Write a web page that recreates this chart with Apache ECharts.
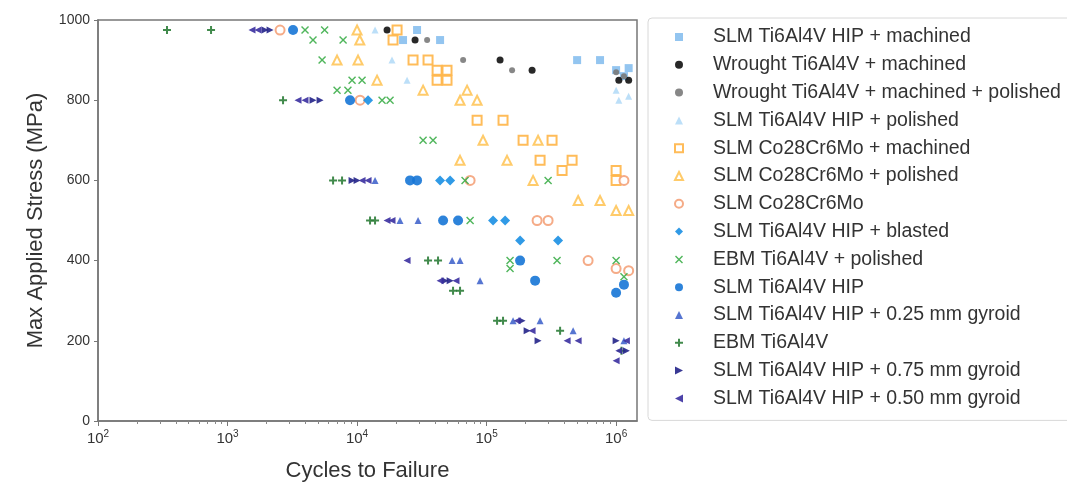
<!DOCTYPE html>
<html>
<head>
<meta charset="utf-8">
<script src="https://cdn.jsdelivr.net/npm/echarts@6/dist/echarts.min.js"></script>
<style>
  html, body { margin: 0; padding: 0; background: #fff; }
  #main { width: 1067px; height: 483px; }
</style>
</head>
<body>
<div id="main"></div>
<script>
// [cycles, max stress MPa]
var slmHipMachined = [[22650, 950], [29060, 975], [43750, 950], [500000, 900], [751700, 900], [1000000, 875], [1150000, 860], [1250000, 880]];
var wroughtMachined = [[17050, 975], [28050, 950], [127100, 900], [224600, 875], [1050000, 850], [1250000, 850]];
var wroughtPolished = [[34740, 950], [65880, 900], [157400, 875], [1000000, 870], [1150000, 860]];
var slmHipPolished = [[13770, 975], [18620, 900], [24330, 850], [1000000, 825], [1050000, 800], [1250000, 810]];
var coMachined = [[20370, 975], [18960, 950], [27060, 900], [35330, 900], [41500, 875], [49500, 875], [41500, 850], [49500, 850],
  [84500, 750], [134000, 750], [191400, 700], [320300, 700], [258900, 650], [382800, 625], [457400, 650], [1000000, 625], [1000000, 600]];
var coPolished = [[10000, 975], [10500, 950], [7010, 900], [10180, 900], [14270, 850], [32350, 825], [62400, 800], [70700, 825], [84500, 800],
  [93900, 700], [249800, 700], [62400, 650], [143900, 650], [228600, 600], [509300, 550], [751700, 550], [1000000, 525], [1250000, 525]];
var coPlain = [[2545, 975], [10550, 800], [74640, 600], [245500, 500], [298600, 500], [608000, 400], [1000000, 380], [1150000, 600], [1250000, 375]];
var slmHipBlasted = [[12160, 800], [43750, 600], [52300, 600], [112200, 500], [139000, 500], [181500, 450], [356500, 450]];
var ebmPolished = [[3965, 975], [5620, 975], [4570, 950], [7800, 950], [5370, 900], [9150, 850], [10930, 850], [7010, 825], [8500, 825],
  [15600, 800], [17980, 800], [32350, 700], [38600, 700], [298600, 600], [68200, 600], [74640, 500], [151800, 400], [151800, 380],
  [350000, 400], [1000000, 400], [1150000, 360]];
var slmHip = [[3205, 975], [8830, 800], [25650, 600], [29060, 600], [46150, 500], [60250, 500], [181500, 400], [237000, 350], [1000000, 320], [1150000, 340]];
var gyroid025 = [[13770, 600], [21470, 500], [29600, 500], [54200, 400], [62400, 400], [89100, 350], [160200, 250], [258900, 250], [465600, 225], [1150000, 200]];
var ebmPlain = [[341, 975], [746, 975], [2683, 800], [6530, 600], [7660, 600], [12600, 500], [13770, 500], [35330, 400], [42200, 400],
  [55100, 325], [62400, 325], [120500, 250], [134000, 250], [369500, 225], [1100000, 175]];
var gyroid075 = [[1950, 975], [2130, 975], [4570, 800], [5180, 800], [9150, 600], [10000, 600], [47800, 350], [52300, 350], [188000, 250],
  [205600, 225], [249800, 200], [1000000, 200], [1200000, 175]];
var gyroid050 = [[1545, 975], [1720, 975], [3500, 800], [3965, 800], [10930, 600], [12160, 600], [17050, 500], [18620, 500], [24330, 400],
  [43750, 350], [58100, 350], [172000, 250], [224600, 225], [418500, 200], [509300, 200], [1000000, 150], [1050000, 175], [1200000, 200]];

var seriesNames = [
  'SLM Ti6Al4V HIP + machined', 'Wrought Ti6Al4V + machined', 'Wrought Ti6Al4V + machined + polished',
  'SLM Ti6Al4V HIP + polished', 'SLM Co28Cr6Mo + machined', 'SLM Co28Cr6Mo + polished', 'SLM Co28Cr6Mo',
  'SLM Ti6Al4V HIP + blasted', 'EBM Ti6Al4V + polished', 'SLM Ti6Al4V HIP', 'SLM Ti6Al4V HIP + 0.25 mm gyroid',
  'EBM Ti6Al4V', 'SLM Ti6Al4V HIP + 0.75 mm gyroid', 'SLM Ti6Al4V HIP + 0.50 mm gyroid'
];
var seriesData = [slmHipMachined, wroughtMachined, wroughtPolished, slmHipPolished, coMachined, coPolished, coPlain,
  slmHipBlasted, ebmPolished, slmHip, gyroid025, ebmPlain, gyroid075, gyroid050];

// x axis decades (labelled) and the in-between log ticks
var decades = [100, 1000, 10000, 100000, 1000000];
var minorTicks = [];
for (var d = 0; d < decades.length; d++) {
  for (var m = 2; m <= 9; m++) {
    if (decades[d] * m <= 1450000) minorTicks.push(decades[d] * m);
  }
}

var plusPath = 'path://M3,0H5V3H8V5H5V8H3V5H0V3H3Z';
var crossPath = 'path://M1,0L4,3L7,0L8,1L5,4L8,7L7,8L4,5L1,8L0,7L3,4L0,1Z';
var rightTri = 'path://M0,0L8,4L0,8Z';
var leftTri = 'path://M8,0L0,4L8,8Z';

// marker look for each series
var looks = [
  {symbol: 'rect', size: 8, color: '#87bfee'},
  {symbol: 'circle', size: 7, color: '#111111'},
  {symbol: 'circle', size: 6, color: '#7a7a7a'},
  {symbol: 'triangle', size: 7, color: '#b5dbf7'},
  {symbol: 'emptyRect', size: 9, color: '#ffb547'},
  {symbol: 'emptyTriangle', size: 9, color: '#ffc55a'},
  {symbol: 'emptyCircle', size: 9, color: '#f4a27a'},
  {symbol: 'diamond', size: 10, color: '#1a8fe3'},
  {symbol: crossPath, size: 8, color: '#3dae4a'},
  {symbol: 'circle', size: 10, color: '#1675d6'},
  {symbol: 'triangle', size: 7, color: '#4466cc'},
  {symbol: plusPath, size: 8, color: '#2c7d38'},
  {symbol: rightTri, size: 7, color: '#222288'},
  {symbol: leftTri, size: 7, color: '#3a2fa0'}
];

var series = [];
for (var i = 0; i < seriesNames.length; i++) {
  series.push({
    name: seriesNames[i],
    type: 'scatter',
    xAxisIndex: 0,
    data: seriesData[i],
    symbol: looks[i].symbol,
    symbolSize: looks[i].size,
    itemStyle: {color: looks[i].color, opacity: 0.9, borderWidth: looks[i].symbol.indexOf('empty') === 0 ? 1.5 : 0},
    emphasis: {disabled: true}
  });
}

var myChart = echarts.init(document.getElementById('main'));
var option = {
  animation: false,
  textStyle: {fontFamily: 'Liberation Sans, Arial, sans-serif'},
  grid: {left: 98, right: 430, top: 20, bottom: 62, outerBoundsMode: 'none', show: true, borderColor: '#777', borderWidth: 1.5},
  xAxis: [{
    type: 'log',
    logBase: 10,
    min: 100,
    max: 1450000,
    name: 'Cycles to Failure',
    nameLocation: 'middle',
    nameGap: 39,
    nameTextStyle: {fontSize: 22, color: '#333'},
    axisLine: {lineStyle: {color: '#777', width: 1.5}},
    axisTick: {length: 5, customValues: decades, lineStyle: {color: '#777'}},
    splitLine: {show: false},
    axisLabel: {
      margin: 8,
      customValues: decades,
      formatter: function (v) {
        return '{b|10}{s|' + Math.round(Math.log10(v)) + '}';
      },
      rich: {
        b: {fontSize: 15, color: '#333'},
        s: {fontSize: 10, color: '#333', verticalAlign: 'top', padding: [0, 0, 9, 0]}
      }
    }
  }, {
    type: 'log',
    logBase: 10,
    min: 100,
    max: 1450000,
    position: 'bottom',
    axisLine: {show: false},
    axisTick: {length: 3, customValues: minorTicks, lineStyle: {color: '#888'}},
    axisLabel: {show: false},
    splitLine: {show: false}
  }],
  yAxis: {
    type: 'value',
    min: 0,
    max: 1000,
    interval: 200,
    name: 'Max Applied Stress (MPa)',
    nameLocation: 'middle',
    nameGap: 51,
    nameTextStyle: {fontSize: 22, color: '#333'},
    axisLine: {show: true, lineStyle: {color: '#777', width: 1.5}},
    axisTick: {show: true, length: 4, lineStyle: {color: '#777'}},
    splitLine: {show: false},
    axisLabel: {fontSize: 14, color: '#333', margin: 8, formatter: function (v) { return String(v); }}
  },
  legend: {
    orient: 'vertical',
    left: 648,
    top: 18,
    padding: [9, 60, 12, 26],
    itemWidth: 8,
    itemHeight: 8,
    itemGap: 7.8,
    borderColor: '#d8d8d8',
    borderWidth: 1,
    borderRadius: 4,
    textStyle: {fontSize: 19.5, color: '#333', lineHeight: 20, padding: [0, 0, 0, 25]},
    data: seriesNames
  },
  series: series
};
myChart.setOption(option);
</script>
</body>
</html>
